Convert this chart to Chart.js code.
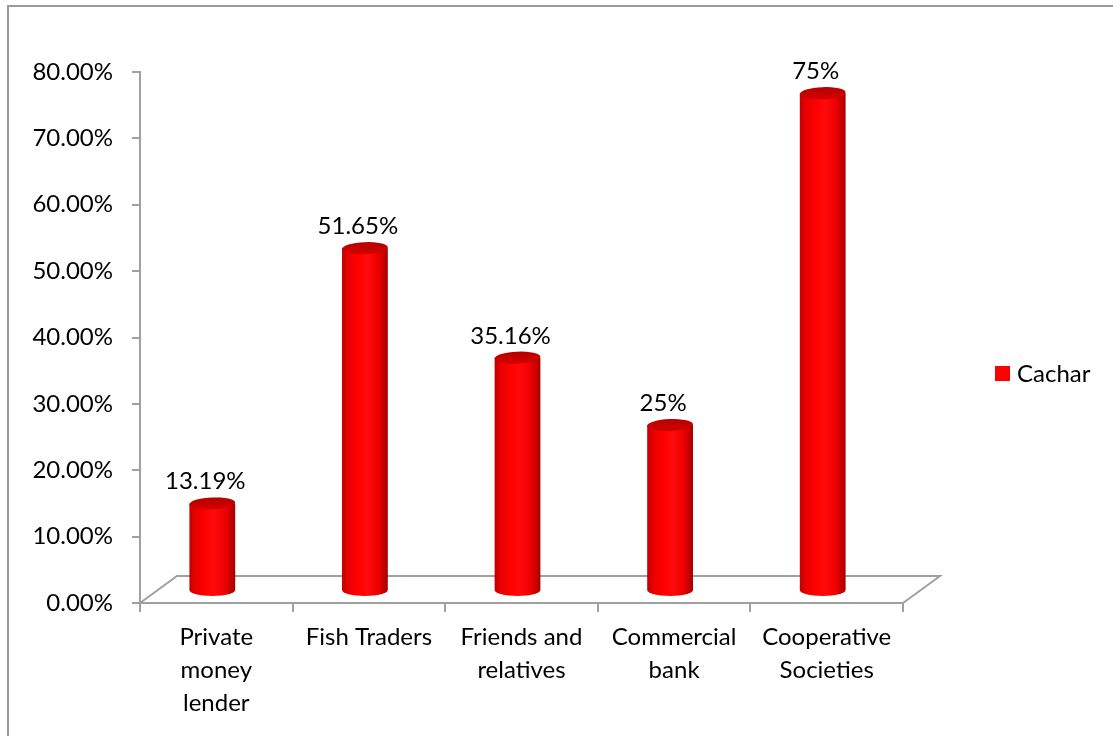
<!DOCTYPE html>
<html>
<head>
<meta charset="utf-8">
<script src="https://cdn.jsdelivr.net/npm/chart.js@4.4.1/dist/chart.umd.min.js"></script>
<style>
  html, body { margin: 0; padding: 0; background: #ffffff; }
  #wrap { width: 1113px; height: 736px; }
</style>
</head>
<body>
<div id="wrap"><canvas id="c" width="1113" height="736"></canvas></div>
<script>
// ---- data ----
const categories = [
  ['Private', 'money', 'lender'],
  ['Fish Traders'],
  ['Friends and', 'relatives'],
  ['Commercial', 'bank'],
  ['Cooperative', 'Societies']
];
const cacharValues = [0.1319, 0.5165, 0.3516, 0.25, 0.75];
const valueLabels = ['13.19%', '51.65%', '35.16%', '25%', '75%'];
const seriesName = 'Cachar';
const yTickMin = 0;
const yTickMax = 0.8;
const yTickStep = 0.1;

// ---- style ----
const FONT = 'Lato, "Open Sans", "Liberation Sans", sans-serif';
const FSIZE = 24;
const AXIS_GREY = '#a0a0a0';
const DEPTH_X = 37, DEPTH_Y = 27;     // floor depth
const CYL_DX = -4, CYL_DY = -12;      // cylinder placement inside the depth
const BAR_FRACTION = 0.3;

function bodyGradient(g, x, w) {
  const grad = g.createLinearGradient(x - w / 2, 0, x + w / 2, 0);
  grad.addColorStop(0.00, '#c00000');
  grad.addColorStop(0.12, '#e60000');
  grad.addColorStop(0.35, '#ff0000');
  grad.addColorStop(0.55, '#ff0a0a');
  grad.addColorStop(0.78, '#ee0000');
  grad.addColorStop(0.92, '#c40000');
  grad.addColorStop(1.00, '#a00000');
  return grad;
}

const cylinderPlugin = {
  id: 'cylinders',
  beforeDraw(chart) {
    const g = chart.ctx;
    g.save();
    g.strokeStyle = '#9a9a9a';
    g.lineWidth = 2;
    g.strokeRect(8, 6, 3000, 3000);
    g.restore();
  },
  beforeDatasetsDraw(chart) {
    const g = chart.ctx;
    const a = chart.chartArea;
    // 3D floor
    g.save();
    g.strokeStyle = AXIS_GREY;
    g.lineWidth = 2;
    g.beginPath();
    g.moveTo(a.left, a.bottom);
    g.lineTo(a.left + DEPTH_X, a.bottom - DEPTH_Y);
    g.lineTo(a.right + DEPTH_X, a.bottom - DEPTH_Y);
    g.lineTo(a.right, a.bottom);
    g.stroke();
    g.restore();
    g.save();
    g.translate(CYL_DX, CYL_DY);
  },
  afterDatasetsDraw(chart) {
    const g = chart.ctx;
    const meta = chart.getDatasetMeta(0);
    meta.data.forEach((bar) => {
      const p = bar.getProps(['x', 'y', 'base', 'width'], true);
      const rx = p.width / 2, ry = 6;
      // bottom half ellipse
      g.fillStyle = bodyGradient(g, p.x, p.width);
      g.beginPath();
      g.ellipse(p.x, p.base, rx, ry, 0, 0, Math.PI);
      g.fill();
      // top cap
      const tg = g.createLinearGradient(0, p.y - ry, 0, p.y + ry);
      tg.addColorStop(0, '#b40000');
      tg.addColorStop(1, '#d60000');
      g.fillStyle = tg;
      g.beginPath();
      g.ellipse(p.x, p.y, rx, ry, -0.04, 0, Math.PI * 2);
      g.fill();
    });
    g.restore();
    // value labels
    g.save();
    g.font = FSIZE + 'px ' + FONT;
    g.fillStyle = '#000000';
    g.textAlign = 'center';
    g.textBaseline = 'alphabetic';
    meta.data.forEach((bar, i) => {
      const p = bar.getProps(['x', 'y'], true);
      g.fillText(valueLabels[i], p.x - 11, p.y + CYL_DY - 14);
    });
    // legend
    g.fillStyle = '#ff0000';
    g.fillRect(995, 366, 15, 15);
    g.fillStyle = '#000000';
    g.textAlign = 'left';
    g.textBaseline = 'middle';
    g.fillText(seriesName, 1017, 374);
    g.restore();
  }
};

new Chart(document.getElementById('c'), {
  type: 'bar',
  data: {
    labels: categories,
    datasets: [{
      label: seriesName,
      data: cacharValues,
      borderWidth: 0,
      backgroundColor: (ctx) => {
        const chart = ctx.chart;
        const xs = chart.scales && chart.scales.x;
        if (!xs || ctx.dataIndex === undefined || !chart.chartArea) return '#ff0000';
        const x = xs.getPixelForValue(ctx.dataIndex);
        const w = (xs.width / categories.length) * BAR_FRACTION;
        return bodyGradient(chart.ctx, x, w);
      },
      barPercentage: BAR_FRACTION,
      categoryPercentage: 1.0
    }]
  },
  options: {
    responsive: false,
    animation: false,
    devicePixelRatio: 1,
    layout: { padding: { top: 72, left: 0, right: 210, bottom: 0 } },
    plugins: {
      legend: { display: false },
      tooltip: { enabled: false }
    },
    scales: {
      x: {
        afterFit(scale) { scale.height = 133; },
        grid: {
          display: true,
          drawOnChartArea: false,
          drawTicks: true,
          tickLength: 9,
          offset: true,
          color: AXIS_GREY,
          lineWidth: 2
        },
        border: { display: true, color: AXIS_GREY, width: 2 },
        ticks: {
          color: '#000000',
          padding: 9,
          maxRotation: 0,
          autoSkip: false,
          font: { family: FONT, size: FSIZE, lineHeight: 1.375 }
        }
      },
      y: {
        min: yTickMin,
        max: yTickMax,
        afterFit(scale) { scale.width = 140; },
        grid: {
          display: true,
          drawOnChartArea: false,
          drawTicks: true,
          tickLength: 8,
          color: AXIS_GREY,
          lineWidth: 2
        },
        border: { display: true, color: AXIS_GREY, width: 2 },
        ticks: {
          stepSize: yTickStep,
          color: '#000000',
          padding: 19,
          font: { family: FONT, size: FSIZE },
          callback: (v) => (v * 100).toFixed(2) + '%'
        }
      }
    }
  },
  plugins: [cylinderPlugin]
});
</script>
</body>
</html>
